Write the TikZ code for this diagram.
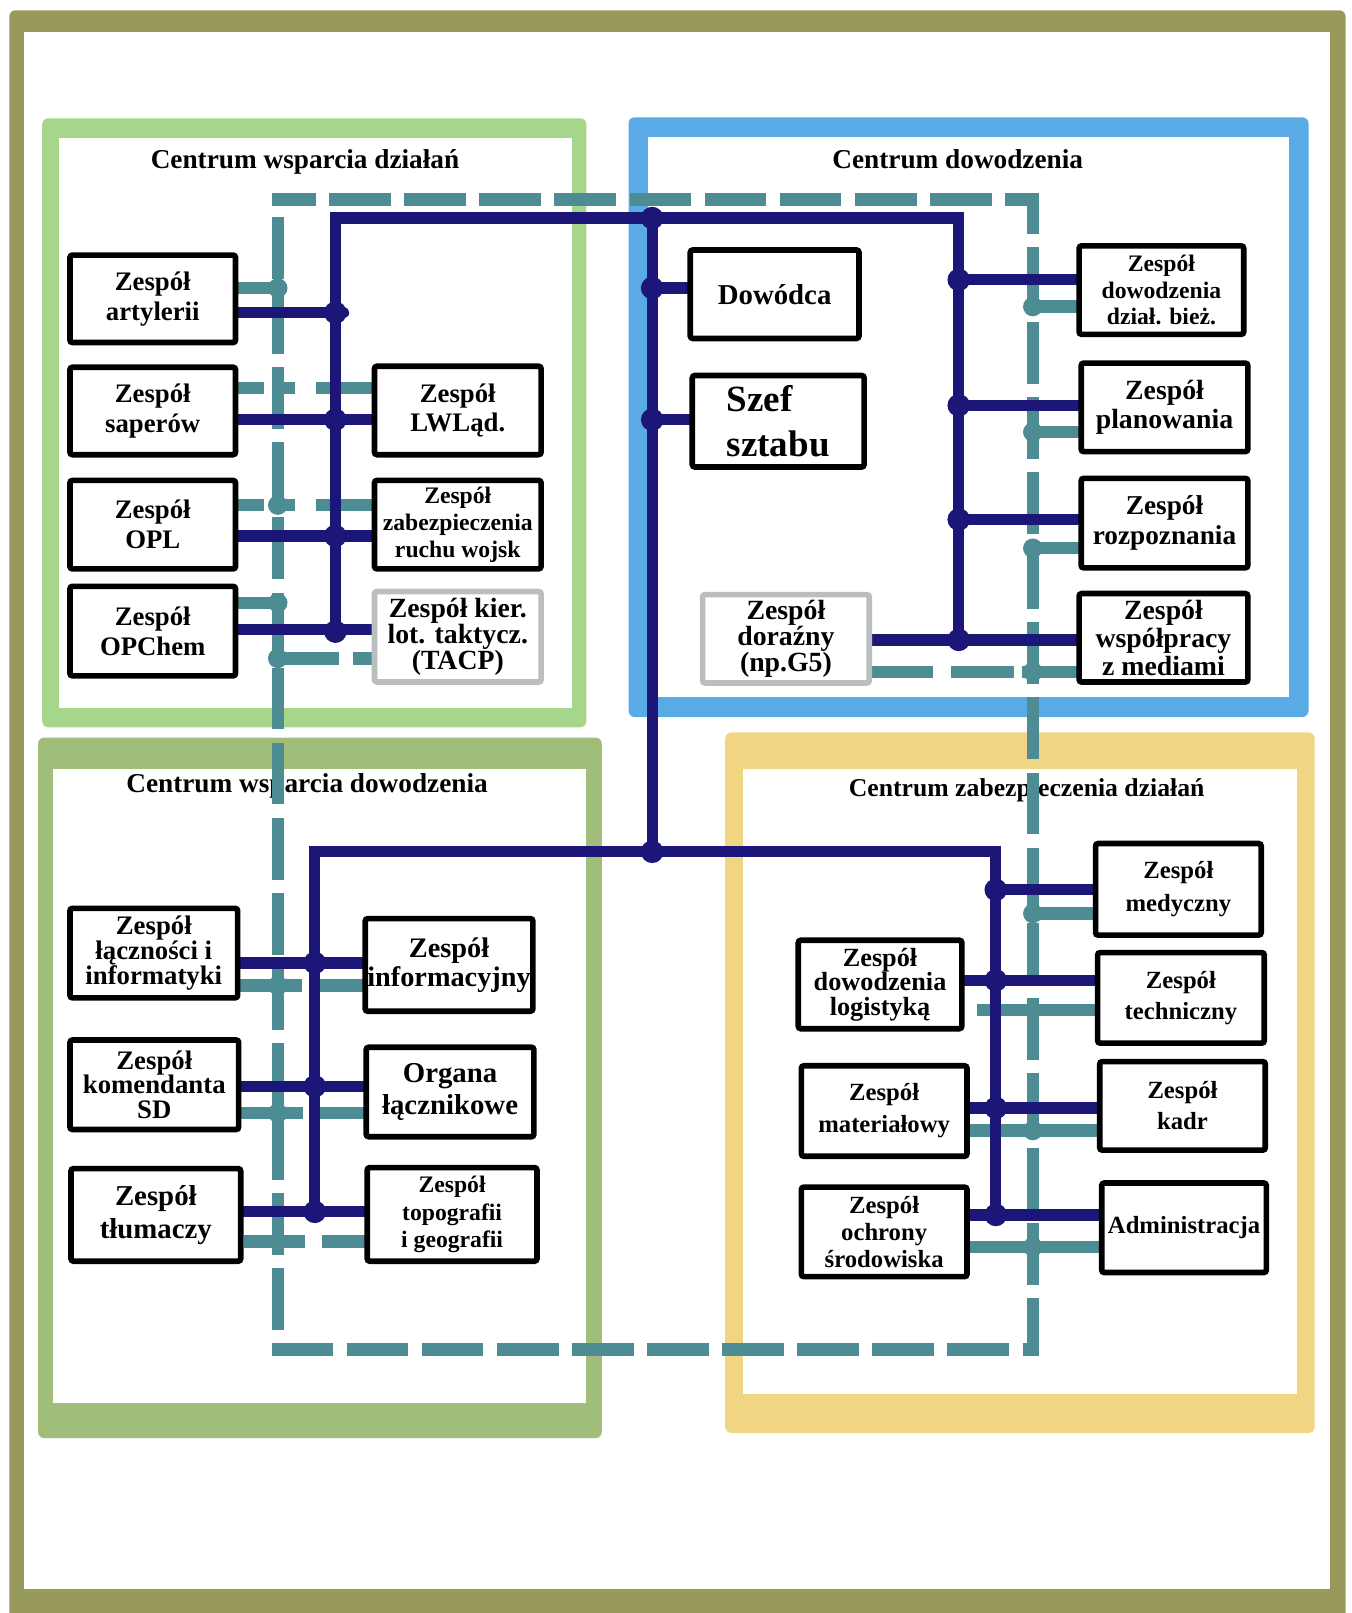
\documentclass[tikz,border=0pt]{standalone}
\usepackage{fontspec}
\setmainfont{Liberation Serif}
\pgfdeclarelayer{bg}
\pgfdeclarelayer{lines}
\pgfsetlayers{bg,lines,main}
\definecolor{frameolive}{RGB}{152,154,92}
\definecolor{grpgreen}{RGB}{166,214,140}
\definecolor{grpblue}{RGB}{90,170,230}
\definecolor{grpolive}{RGB}{160,190,122}
\definecolor{grpyellow}{RGB}{240,214,130}
\definecolor{navyc}{RGB}{28,22,120}
\definecolor{tealc}{RGB}{76,140,146}
\definecolor{boxgray}{RGB}{186,190,190}
\newcommand{\fs}[2]{\fontsize{#1}{#2}\selectfont}
\begin{document}
\begin{tikzpicture}[x=1pt,y=-1pt,
  box/.style={draw=black, line width=5.5pt, fill=white, rounded corners=2.5pt, align=center,
    inner sep=0pt, font=\bfseries\fs{26}{29}},
  gbox/.style={box, draw=boxgray},
  navyl/.style={draw=navyc, line width=11pt, line cap=round},
  teall/.style={draw=tealc, line width=12pt},
  title/.style={font=\bfseries\fs{26.5}{28}, inner sep=0pt}]
\useasboundingbox (0,0) rectangle (1314,1568);

% ---------- boxes ----------
\node[box, minimum width=161pt, minimum height=85pt] (art) at (148.5,290.5) {Zespół\\artylerii};
\node[box, minimum width=161pt, minimum height=85pt] (sap) at (148.5,399.5) {Zespół\\saperów};
\node[box, minimum width=161pt, minimum height=86pt] (opl) at (148.5,510) {Zespół\\OPL};
\node[box, minimum width=161pt, minimum height=87pt] (opc) at (148.5,613.5) {Zespół\\OPChem};
\node[box, minimum width=162pt, minimum height=86pt] (lwl) at (445,399) {Zespół\\LWLąd.};
\node[box, minimum width=162pt, minimum height=86pt, font=\bfseries\fs{23}{26}] (zab) at (445,510) {Zespół\\zabezpieczenia\\ruchu wojsk};
\node[gbox, minimum width=162pt, minimum height=88pt, font=\bfseries\fs{27}{25}] (tacp) at (445,619) {Zespół kier.\\lot. taktycz.\\(TACP)};

\node[box, minimum width=164pt, minimum height=86pt, font=\bfseries\fs{28}{30}] (dow) at (753,286) {Dowódca};
\node[box, minimum width=167pt, minimum height=89pt, align=left, font=\bfseries\fs{36}{44}] (szef) at (756.5,409.5) {Szef\\sztabu};
\node[gbox, minimum width=162pt, minimum height=86pt, font=\bfseries\fs{27}{25}] (dor) at (764,621) {Zespół\\doraźny\\(np.G5)};
\node[box, minimum width=160pt, minimum height=86pt, font=\bfseries\fs{23}{26}] (zdb) at (1129,282) {Zespół\\dowodzenia\\dział. bież.};
\node[box, minimum width=162pt, minimum height=86pt, font=\bfseries\fs{27}{28}] (pla) at (1132,396) {Zespół\\planowania};
\node[box, minimum width=162pt, minimum height=87pt, font=\bfseries\fs{26.5}{29}] (roz) at (1132,508.5) {Zespół\\rozpoznania};
\node[box, minimum width=164pt, minimum height=86pt, font=\bfseries\fs{27}{27}] (wsp) at (1131,620) {Zespół\\współpracy\\z mediami};

\node[box, minimum width=163pt, minimum height=87pt, font=\bfseries\fs{26}{23}] (lac) at (149.5,926.5) {Zespół\\łączności i\\informatyki};
\node[box, minimum width=164pt, minimum height=87pt, font=\bfseries\fs{26}{24}] (kom) at (150,1054.5) {Zespół\\komendanta\\SD};
\node[box, minimum width=165pt, minimum height=90pt, font=\bfseries\fs{28}{32}] (tlu) at (151.5,1181) {Zespół\\tłumaczy};
\node[box, minimum width=163pt, minimum height=90pt, font=\bfseries\fs{27.5}{28}] (inf) at (436.5,938) {Zespół\\informacyjny};
\node[box, minimum width=163pt, minimum height=87pt, font=\bfseries\fs{28}{31}] (org) at (437.5,1061.5) {Organa\\łącznikowe};
\node[box, minimum width=165pt, minimum height=91pt, font=\bfseries\fs{23}{27}] (top) at (439.5,1180.5) {Zespół\\topografii\\i geografii};

\node[box, minimum width=161pt, minimum height=89pt, font=\bfseries\fs{24}{32}] (med) at (1145.5,864.5) {Zespół\\medyczny};
\node[box, minimum width=162pt, minimum height=88pt, font=\bfseries\fs{24}{30}] (tec) at (1148,970) {Zespół\\techniczny};
\node[box, minimum width=161pt, minimum height=86pt, font=\bfseries\fs{24}{30}] (kad) at (1149.5,1075) {Zespół\\kadr};
\node[box, minimum width=160pt, minimum height=87pt, font=\bfseries\fs{24}{28}] (adm) at (1151,1193.5) {Administracja};
\node[box, minimum width=159pt, minimum height=86pt, font=\bfseries\fs{25.5}{24}] (log) at (855.5,957) {Zespół\\dowodzenia\\logistyką};
\node[box, minimum width=161pt, minimum height=88pt, font=\bfseries\fs{24}{31}] (mat) at (859.5,1080) {Zespół\\materiałowy};
\node[box, minimum width=161pt, minimum height=87pt, font=\bfseries\fs{24}{26}] (och) at (859.5,1197.5) {Zespół\\ochrony\\środowiska};

% ---------- background: frame, groups, titles ----------
\begin{pgfonlayer}{bg}
\fill[frameolive, rounded corners=6pt] (9,10) rectangle (1308,1580);
\fill[white] (23,31) rectangle (1293,1545);
\fill[grpgreen, rounded corners=6pt] (41,115) rectangle (570,707);
\fill[white] (57,134) rectangle (556,688);
\fill[grpblue, rounded corners=6pt] (611,114) rectangle (1272,697);
\fill[white] (630,133) rectangle (1253,678);
\fill[grpolive, rounded corners=6pt] (37,717) rectangle (585,1398);
\fill[white] (52,748) rectangle (570,1364);
\fill[grpyellow, rounded corners=6pt] (705,712) rectangle (1278,1393);
\fill[white] (722,748) rectangle (1261,1355);
\node[title] (t1) at (296.5,157) {Centrum wsparcia działań};
\node[title] (t2) at (931,155) {Centrum dowodzenia};
\node[title] (t3) at (298.5,764) {Centrum wsparcia dowodzenia};
\node[title, font=\bfseries\fs{25}{28}] (t4) at (998,768) {Centrum zabezpieczenia działań};
\end{pgfonlayer}

% ---------- connectors ----------
\begin{pgfonlayer}{lines}
% teal (dashed) network
\coordinate (tA) at (270,211);
\coordinate (tB) at (270,1312);
\coordinate (tC) at (1004,1312);
\coordinate (tD) at (1004,194);
\coordinate (tE) at (264,194);
\draw[teall, dash pattern=on 60pt off 13pt] (tA) -- (tB) -- (tC) -- (tD) -- (tE);

\draw[teall] (art.center |- 0,280) -- (tA |- 0,280);
\draw[teall, dash pattern=on 25pt off 8pt on 22pt off 20pt on 300pt] (sap.east |- 0,377) -- (lwl.center |- 0,377);
\draw[teall, dash pattern=on 25pt off 8pt on 22pt off 20pt on 300pt] (opl.east |- 0,491) -- (zab.center |- 0,491);
\draw[teall] (opc.center |- 0,586) -- (tA |- 0,586);
\draw[teall, dash pattern=on 60pt off 13pt on 300pt] (tA |- 0,640) -- (tacp.center |- 0,640);

\draw[teall] (tD |- 0,298) -- (zdb.center |- 0,298);
\draw[teall] (tD |- 0,420) -- (pla.center |- 0,420);
\draw[teall] (tD |- 0,533) -- (roz.center |- 0,533);
\draw[teall, dash pattern=on 59pt off 18pt on 61pt off 8pt on 300pt] (dor.east |- 0,653) -- (wsp.center |- 0,653);

\draw[teall, dash pattern=on 60pt off 16pt on 300pt] (lac.east |- 0,958) -- (inf.center |- 0,958);
\draw[teall, dash pattern=on 60pt off 16pt on 300pt] (kom.east |- 0,1082) -- (org.center |- 0,1082);
\draw[teall, dash pattern=on 60pt off 16pt on 300pt] (tlu.east |- 0,1207) -- (top.center |- 0,1207);

\coordinate (tecStart) at (950,982);
\draw[teall] (tC |- 0,888) -- (med.center |- 0,888);
\draw[teall] (tecStart) -- (tec.center |- 0,982);
\draw[teall] (mat.center |- 0,1099) -- (kad.center |- 0,1099);
\draw[teall] (och.center |- 0,1212) -- (adm.center |- 0,1212);

\foreach \p in {(270,280),(270,491),(270,586),(270,640),(1004,298),(1004,420),(1004,533),(1004,653),
  (270,958),(270,1082),(1004,888),(1004,1099),(1004,1212)}
  \fill[tealc] \p circle (9.5pt);

% navy network
\coordinate (nA) at (326,212);
\coordinate (nB) at (634,212);
\coordinate (nC) at (932,212);
\coordinate (nD) at (326,620);
\coordinate (nE) at (932,622);
\coordinate (nF) at (634,828);
\coordinate (nG) at (306,828);
\coordinate (nH) at (968,828);
\coordinate (nI) at (306,1178);
\coordinate (nJ) at (968,1181);
\coordinate (artEnd) at (334,304);
\draw[navyl, line cap=butt] (nD) -- (nA) -- (nC) -- (nE);
\draw[navyl] (nB) -- (nF);
\draw[navyl, line cap=butt] (nI) -- (nG) -- (nH) -- (nJ);

\draw[navyl] (art.center |- 0,304) -- (artEnd);
\draw[navyl] (sap.center |- 0,408) -- (lwl.center |- 0,408);
\draw[navyl] (opl.center |- 0,521) -- (zab.center |- 0,521);
\draw[navyl] (opc.center |- 0,612) -- (tacp.center |- 0,612);

\draw[navyl] (nB |- 0,280) -- (dow.center |- 0,280);
\draw[navyl] (nB |- 0,408) -- (szef.center |- 0,408);
\draw[navyl] (nC |- 0,272) -- (zdb.center |- 0,272);
\draw[navyl] (nC |- 0,394) -- (pla.center |- 0,394);
\draw[navyl] (nC |- 0,505) -- (roz.center |- 0,505);
\draw[navyl] (dor.center |- 0,622) -- (wsp.center |- 0,622);

\draw[navyl] (lac.center |- 0,936) -- (inf.center |- 0,936);
\draw[navyl] (kom.center |- 0,1056) -- (org.center |- 0,1056);
\draw[navyl] (tlu.center |- 0,1178) -- (top.center |- 0,1178);

\draw[navyl] (nH |- 0,865) -- (med.center |- 0,865);
\draw[navyl] (log.center |- 0,953) -- (tec.center |- 0,953);
\draw[navyl] (mat.center |- 0,1077) -- (kad.center |- 0,1077);
\draw[navyl] (och.center |- 0,1181) -- (adm.center |- 0,1181);

\foreach \p in {(326,304),(326,408),(326,521),(326,614),(634,212),(634,280),(634,408),
  (932,272),(932,394),(932,505),(932,622),(634,828),(306,936),(306,1056),(306,1178),
  (968,865),(968,953),(968,1077),(968,1181)}
  \fill[navyc] \p circle (11pt);
\end{pgfonlayer}
\end{tikzpicture}
\end{document}
